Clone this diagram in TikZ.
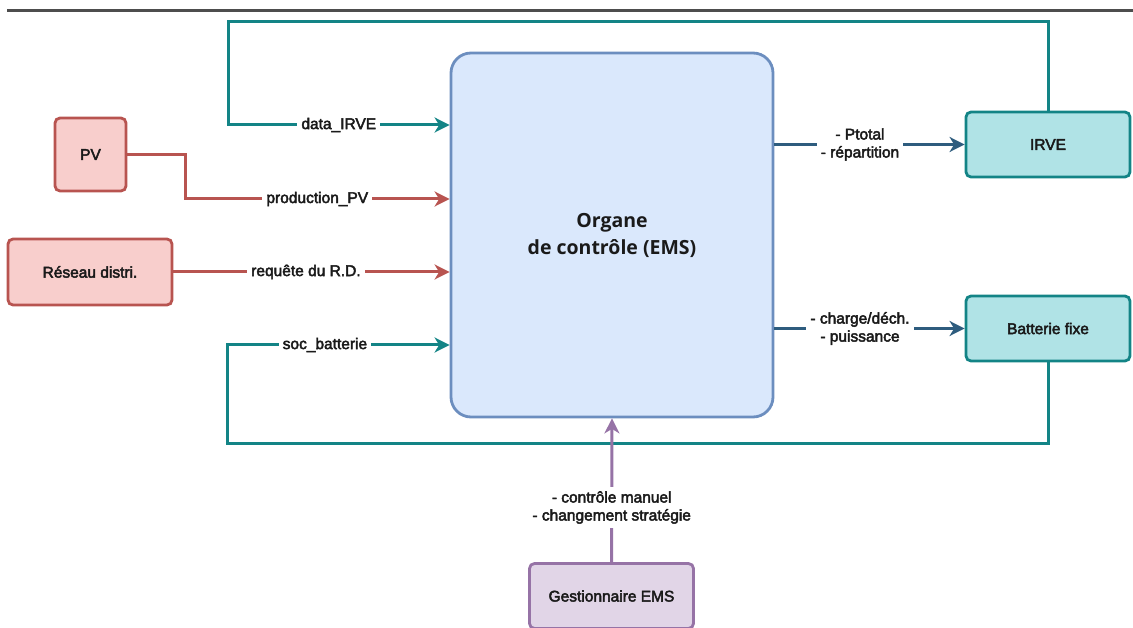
\documentclass[tikz,border=0pt]{standalone}
\usepackage{fontspec}
\setmainfont{Liberation Sans}
\newfontfamily\emsfont{Open Sans}
\usetikzlibrary{arrows.meta,calc}
\definecolor{tealline}{HTML}{138486}
\definecolor{tealfill}{HTML}{B0E3E6}
\definecolor{redline}{HTML}{B85450}
\definecolor{redfill}{HTML}{F8CECC}
\definecolor{blueline}{HTML}{6C8EBF}
\definecolor{bluefill}{HTML}{DAE8FC}
\definecolor{purpleline}{HTML}{9673A6}
\definecolor{purplefill}{HTML}{E1D5E7}
\definecolor{outline}{HTML}{2E5C7E}
\definecolor{rulegray}{HTML}{4D4D4D}
\definecolor{txt}{HTML}{1A1A1A}
\tikzset{
  heavy/.style={execute at begin node={\special{pdf:literal direct 0.1 0.1 0.1 RG 2 Tr #1 w}},
    execute at end node={\special{pdf:literal direct 0 Tr}}},
  box/.style={draw, line width=2.8pt, rounded corners=5pt, align=center, text=txt,
    font=\fontsize{15.5}{18}\selectfont, heavy=0.45},
  tealbox/.style={box, draw=tealline, fill=tealfill, minimum width=164pt, minimum height=65pt},
  redbox/.style={box, draw=redline, fill=redfill},
  purplebox/.style={box, draw=purpleline, fill=purplefill, minimum width=164pt, minimum height=65pt},
  conn/.style={line width=3pt, -{Stealth[length=15pt,width=15pt,inset=4.5pt]}},
  lbl/.style={fill=white, inner sep=4pt, text=txt, align=center,
    font=\fontsize{15.5}{18}\selectfont, heavy=0.45},
}
\begin{document}
\begin{tikzpicture}[x=1pt,y=-1pt]
\useasboundingbox (0,0) rectangle (1133,628);
\draw[rulegray, line width=2.5pt] (7,10.5) -- (1133,10.5);

\node[draw=blueline, fill=bluefill, line width=2.8pt, rounded corners=20pt,
  minimum width=322pt, minimum height=364pt, align=center, text=txt,
  font=\emsfont\fontsize{19.5}{27}\selectfont\bfseries] (main) at (612,235)
  {Organe\\de contrôle (EMS)};

\node[tealbox] (irve) at (1048,144.5) {IRVE};
\node[tealbox] (bat) at (1048,328.5) {Batterie fixe};
\node[redbox, minimum width=71pt, minimum height=73pt] (pv) at (90.5,154.5) {PV};
\node[redbox, minimum width=164pt, minimum height=66pt] (res) at (90,272) {Réseau distri.};
\node[purplebox] (gest) at (611.5,596) {Gestionnaire EMS};

\coordinate (tl) at (228,21.5);
\coordinate (bl) at (227,443);
\coordinate (pvbend) at (185,154.5);

% teal feedback loops
\draw[conn, tealline] (irve.north) |- (tl) |- (main.west |- 0,125)
  node[lbl, pos=0.75] {data\_IRVE};
\draw[conn, tealline] (bat.south) |- (bl) |- (main.west |- 0,345)
  node[lbl, pos=0.72] {soc\_batterie};

% red inputs
\draw[conn, redline] (pv.east) -- (pvbend) |- (main.west |- 0,199)
  node[lbl, pos=0.75] {production\_PV};
\draw[conn, redline] (res.east) -- (main.west |- res.east)
  node[lbl, pos=0.48] {requête du R.D.};

% outputs
\draw[conn, outline, line width=3.4pt] (main.east |- irve.west) -- (irve.west)
  node[lbl, pos=0.45] {- Ptotal\\- répartition};
\draw[conn, outline, line width=3.4pt] (main.east |- bat.west) -- (bat.west)
  node[lbl, pos=0.45] {- charge/déch.\\- puissance};

% manager
\draw[conn, purpleline] (gest.north) -- (main.south)
  node[lbl, pos=0.38] {- contrôle manuel\\- changement stratégie};
\end{tikzpicture}
\end{document}
